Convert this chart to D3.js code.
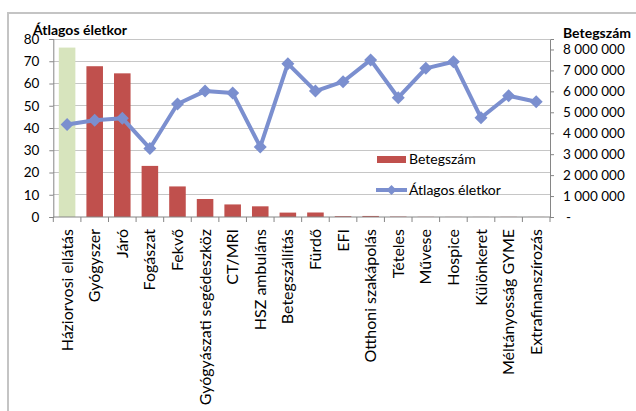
<!DOCTYPE html>
<html><head><meta charset="utf-8">
<script src="https://cdn.jsdelivr.net/npm/d3@7"></script>
<style>
html,body{margin:0;padding:0;background:#fff;}
svg text{font-family:Lato,"Liberation Sans",sans-serif;fill:#000;}
</style></head>
<body><svg id="c" width="636" height="411"></svg>
<script>
const categories = ["Háziorvosi ellátás","Gyógyszer","Járó","Fogászat","Fekvő","Gyógyászati segédeszköz","CT/MRI","HSZ ambuláns","Betegszállítás","Fürdő","EFI","Otthoni szakápolás","Tételes","Művese","Hospice","Különkeret","Méltányosság GYME","Extrafinanszírozás"];
const betegszam = [8090000,7200000,6860000,2440000,1460000,860000,600000,510000,210000,215000,40000,50000,20000,8000,5000,4000,6000,3000];
const atlagosEletkor = [41.6,43.5,44.4,30.8,50.8,56.6,55.7,31.5,68.9,56.6,60.8,70.6,53.6,66.8,69.8,44.6,54.5,51.8];
const leftTicks = [0,10,20,30,40,50,60,70,80];
const rightTicks = [0,1000000,2000000,3000000,4000000,5000000,6000000,7000000,8000000];
const leftTitle = "Átlagos életkor";
const rightTitle = "Betegszám";
const seriesNames = ["Betegszám","Átlagos életkor"];

const svg = d3.select("#c");
const L = 53.3, R = 550, T = 39, B = 217;
const x = d3.scaleBand().domain(categories).range([L,R]).paddingInner(0.4).paddingOuter(0.2);
const yL = d3.scaleLinear().domain([0,80]).range([B,T]);
const yR = d3.scaleLinear().domain([0,8500000]).range([B,T]);
const axisCol = "#868686", gridCol = "#c6c6c6";
const lineCol = "#7b8fcf", barCol = "#c0504d", greenCol = "#d7e4bd";

// frame
svg.append("path").attr("d",`M8,411 L8,13 L636,13`).attr("fill","none").attr("stroke","#c4c4c4").attr("stroke-width",2);

// gridlines
svg.append("g").selectAll("line").data(leftTicks.filter(d=>d>0)).join("line")
  .attr("x1",L).attr("x2",R).attr("y1",d=>yL(d)).attr("y2",d=>yL(d))
  .attr("stroke",gridCol).attr("stroke-width",1).attr("shape-rendering","crispEdges");

// bars
svg.append("g").selectAll("rect").data(betegszam).join("rect")
  .attr("x",(d,i)=>x(categories[i])).attr("width",x.bandwidth())
  .attr("y",d=>yR(d)).attr("height",d=>B-yR(d))
  .attr("fill",(d,i)=>i===0?greenCol:barCol);

// left axis
const gl = svg.append("g").attr("transform",`translate(${L},0)`)
  .call(d3.axisLeft(yL).tickValues(leftTicks).tickSize(4).tickPadding(10));
gl.select(".domain").attr("stroke",axisCol);
gl.selectAll(".tick line").attr("stroke",axisCol);
gl.selectAll("text").attr("font-size",13.5).style("font-family","Lato");

// right axis
const fmt = d => d===0 ? "-" : d3.format(",")(d).replace(/,/g," ");
const gr = svg.append("g").attr("transform",`translate(${R},0)`)
  .call(d3.axisRight(yR).tickValues(rightTicks).tickFormat(fmt).tickSize(4).tickPadding(9));
gr.select(".domain").attr("stroke",axisCol);
gr.selectAll(".tick line").attr("stroke",axisCol);
gr.selectAll("text").attr("font-size",13.5).style("font-family","Lato");
gr.selectAll(".tick").filter(d=>d===0).select("text").attr("x",16);

// x axis
const gx = svg.append("g").attr("transform",`translate(0,${B})`);
gx.append("line").attr("x1",L).attr("x2",R).attr("stroke",axisCol);
const step = x.step();
const bounds = d3.range(categories.length+1).map(i=>L+i*step);
gx.selectAll("line.tk").data(bounds).join("line").attr("class","tk")
  .attr("x1",d=>d).attr("x2",d=>d).attr("y1",0).attr("y2",5).attr("stroke",axisCol);
gx.selectAll("text").data(categories).join("text")
  .attr("transform",d=>`translate(${x(d)+x.bandwidth()/2+5.5},12) rotate(-90)`)
  .attr("text-anchor","end").attr("font-size",16).text(d=>d);

// line
const line = d3.line().x((d,i)=>x(categories[i])+x.bandwidth()/2).y(d=>yL(d));
svg.append("path").datum(atlagosEletkor).attr("d",line)
  .attr("fill","none").attr("stroke",lineCol).attr("stroke-width",4).attr("stroke-linejoin","round");
const dia = "M0,-6.5L6.5,0L0,6.5L-6.5,0Z";
svg.append("g").selectAll("path").data(atlagosEletkor).join("path")
  .attr("transform",(d,i)=>`translate(${x(categories[i])+x.bandwidth()/2},${yL(d)})`)
  .attr("d",dia).attr("fill",lineCol);

// titles
svg.append("text").attr("x",33).attr("y",35).attr("font-size",14).attr("font-weight","bold").text(leftTitle);
svg.append("text").attr("x",563).attr("y",38).attr("font-size",14).attr("font-weight","bold").text(rightTitle);

// legend
const lg = svg.append("g");
lg.append("rect").attr("x",377).attr("y",156).attr("width",29).attr("height",7).attr("fill",barCol);
lg.append("text").attr("x",409).attr("y",164).attr("font-size",14).text(seriesNames[0]);
lg.append("line").attr("x1",376).attr("x2",407).attr("y1",190).attr("y2",190).attr("stroke",lineCol).attr("stroke-width",4);
lg.append("path").attr("transform","translate(391.5,190)").attr("d","M0,-5L5,0L0,5L-5,0Z").attr("fill",lineCol);
lg.append("text").attr("x",409).attr("y",195).attr("font-size",14).text(seriesNames[1]);
</script></body></html>
